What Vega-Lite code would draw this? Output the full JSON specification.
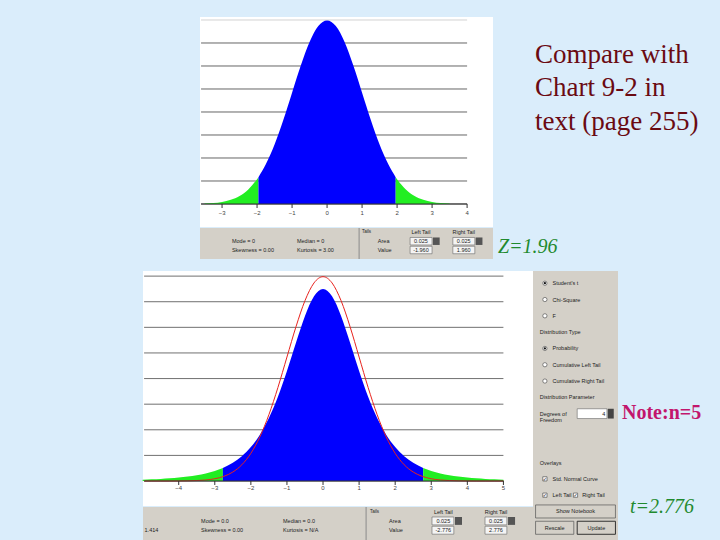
{
 "$schema": "https://vega.github.io/schema/vega-lite/v6.json",
 "background": "#DAEDFB",
 "padding": 0,
 "spacing": 0,
 "config": {"view": {"stroke": null}, "concat": {"spacing": 0}, "text": {"font": "Liberation Sans"}},
 "datasets": {
  "grid": [{"level":0},{"level":0.05},{"level":0.1},{"level":0.15},{"level":0.2},{"level":0.25},{"level":0.3},{"level":0.35},{"level":0.4}],
  "ticks1": [{"tick":-3},{"tick":-2},{"tick":-1},{"tick":0},{"tick":1},{"tick":2},{"tick":3},{"tick":4}],
  "ticks2": [{"tick":-5},{"tick":-4},{"tick":-3},{"tick":-2},{"tick":-1},{"tick":0},{"tick":1},{"tick":2},{"tick":3},{"tick":4},{"tick":5}],
  "normalRegions": [
   {"z":-3.5,"density":0.0009,"part":"left"},{"z":-3.25,"density":0.0020,"part":"left"},{"z":-3.0,"density":0.0044,"part":"left"},{"z":-2.75,"density":0.0091,"part":"left"},{"z":-2.5,"density":0.0175,"part":"left"},{"z":-2.25,"density":0.0317,"part":"left"},{"z":-2.0,"density":0.0540,"part":"left"},{"z":-1.96,"density":0.0584,"part":"left"},
   {"z":-1.96,"density":0.0584,"part":"center"},{"z":-1.75,"density":0.0863,"part":"center"},{"z":-1.5,"density":0.1295,"part":"center"},{"z":-1.25,"density":0.1826,"part":"center"},{"z":-1.0,"density":0.2420,"part":"center"},{"z":-0.75,"density":0.3011,"part":"center"},{"z":-0.5,"density":0.3521,"part":"center"},{"z":-0.25,"density":0.3867,"part":"center"},{"z":0,"density":0.3989,"part":"center"},{"z":0.25,"density":0.3867,"part":"center"},{"z":0.5,"density":0.3521,"part":"center"},{"z":0.75,"density":0.3011,"part":"center"},{"z":1.0,"density":0.2420,"part":"center"},{"z":1.25,"density":0.1826,"part":"center"},{"z":1.5,"density":0.1295,"part":"center"},{"z":1.75,"density":0.0863,"part":"center"},{"z":1.96,"density":0.0584,"part":"center"},
   {"z":1.96,"density":0.0584,"part":"right"},{"z":2.0,"density":0.0540,"part":"right"},{"z":2.25,"density":0.0317,"part":"right"},{"z":2.5,"density":0.0175,"part":"right"},{"z":2.75,"density":0.0091,"part":"right"},{"z":3.0,"density":0.0044,"part":"right"},{"z":3.25,"density":0.0020,"part":"right"},{"z":3.5,"density":0.0009,"part":"right"}
  ],
  "tRegions": [
   {"t":-5.0,"density":0.0026,"part":"left"},{"t":-4.75,"density":0.0033,"part":"left"},{"t":-4.5,"density":0.0041,"part":"left"},{"t":-4.25,"density":0.0052,"part":"left"},{"t":-4.0,"density":0.0067,"part":"left"},{"t":-3.75,"density":0.0087,"part":"left"},{"t":-3.5,"density":0.0113,"part":"left"},{"t":-3.25,"density":0.0148,"part":"left"},{"t":-3.0,"density":0.0197,"part":"left"},{"t":-2.776,"density":0.0256,"part":"left"},
   {"t":-2.776,"density":0.0256,"part":"center"},{"t":-2.5,"density":0.0357,"part":"center"},{"t":-2.25,"density":0.0485,"part":"center"},{"t":-2.0,"density":0.0663,"part":"center"},{"t":-1.75,"density":0.0905,"part":"center"},{"t":-1.5,"density":0.1229,"part":"center"},{"t":-1.25,"density":0.1644,"part":"center"},{"t":-1.0,"density":0.2147,"part":"center"},{"t":-0.75,"density":0.2699,"part":"center"},{"t":-0.5,"density":0.3223,"part":"center"},{"t":-0.25,"density":0.3607,"part":"center"},{"t":0,"density":0.3750,"part":"center"},{"t":0.25,"density":0.3607,"part":"center"},{"t":0.5,"density":0.3223,"part":"center"},{"t":0.75,"density":0.2699,"part":"center"},{"t":1.0,"density":0.2147,"part":"center"},{"t":1.25,"density":0.1644,"part":"center"},{"t":1.5,"density":0.1229,"part":"center"},{"t":1.75,"density":0.0905,"part":"center"},{"t":2.0,"density":0.0663,"part":"center"},{"t":2.25,"density":0.0485,"part":"center"},{"t":2.5,"density":0.0357,"part":"center"},{"t":2.776,"density":0.0256,"part":"center"},
   {"t":2.776,"density":0.0256,"part":"right"},{"t":3.0,"density":0.0197,"part":"right"},{"t":3.25,"density":0.0148,"part":"right"},{"t":3.5,"density":0.0113,"part":"right"},{"t":3.75,"density":0.0087,"part":"right"},{"t":4.0,"density":0.0067,"part":"right"},{"t":4.25,"density":0.0052,"part":"right"},{"t":4.5,"density":0.0041,"part":"right"},{"t":4.75,"density":0.0033,"part":"right"},{"t":5.0,"density":0.0026,"part":"right"}
  ],
  "normalLine": [
   {"z":-4.95,"density":0.0},{"z":-4.75,"density":0.0},{"z":-4.5,"density":0.0},{"z":-4.25,"density":0.0},{"z":-4.0,"density":0.0001},{"z":-3.75,"density":0.0004},{"z":-3.5,"density":0.0009},{"z":-3.25,"density":0.0020},{"z":-3.0,"density":0.0044},{"z":-2.75,"density":0.0091},{"z":-2.5,"density":0.0175},{"z":-2.25,"density":0.0317},{"z":-2.0,"density":0.0540},{"z":-1.75,"density":0.0863},{"z":-1.5,"density":0.1295},{"z":-1.25,"density":0.1826},{"z":-1.0,"density":0.2420},{"z":-0.75,"density":0.3011},{"z":-0.5,"density":0.3521},{"z":-0.25,"density":0.3867},{"z":0,"density":0.3989},{"z":0.25,"density":0.3867},{"z":0.5,"density":0.3521},{"z":0.75,"density":0.3011},{"z":1.0,"density":0.2420},{"z":1.25,"density":0.1826},{"z":1.5,"density":0.1295},{"z":1.75,"density":0.0863},{"z":2.0,"density":0.0540},{"z":2.25,"density":0.0317},{"z":2.5,"density":0.0175},{"z":2.75,"density":0.0091},{"z":3.0,"density":0.0044},{"z":3.25,"density":0.0020},{"z":3.5,"density":0.0009},{"z":3.75,"density":0.0004},{"z":4.0,"density":0.0001},{"z":4.25,"density":0.0},{"z":4.5,"density":0.0},{"z":4.75,"density":0.0},{"z":5.0,"density":0.0}
  ]
 },
 "vconcat": [
  {"hconcat": [
    {"width": 200, "height": 258, "data": {"values": [{}]}, "mark": {"type": "point", "size": 1, "opacity": 0}, "encoding": {}},
    {"vconcat": [
      {"width": 293, "height": 17, "data": {"values": [{}]}, "mark": {"type": "point", "size": 1, "opacity": 0}, "encoding": {}},
      {"width": 293, "height": 210,
       "view": {"fill": "#FFFFFF", "stroke": null},
       "layer": [
        {"data": {"name": "grid"}, "transform": [{"filter": "datum.level < 0.39"}],
         "mark": {"type": "rule", "color": "#666666", "strokeWidth": 1},
         "encoding": {"y": {"field": "level", "type": "quantitative", "scale": {"domain": [-0.05, 0.4065], "nice": false, "zero": false}, "axis": null},
                      "x": {"datum": -3.6, "type": "quantitative", "scale": {"domain": [-3.63, 4.74], "nice": false, "zero": false}, "axis": null},
                      "x2": {"datum": 4}}},
        {"data": {"values": [{}]}, "mark": {"type": "rule", "color": "#D2D2D2", "strokeWidth": 1},
         "encoding": {"y": {"datum": 0.4, "type": "quantitative", "scale": {"domain": [-0.05, 0.4065], "nice": false, "zero": false}, "axis": null},
                      "x": {"datum": -3.6, "type": "quantitative", "scale": {"domain": [-3.63, 4.74], "nice": false, "zero": false}, "axis": null},
                      "x2": {"datum": 4}}},
        {"data": {"name": "normalRegions"}, "mark": {"type": "area", "interpolate": "monotone"},
         "encoding": {"x": {"field": "z", "type": "quantitative", "scale": {"domain": [-3.63, 4.74], "nice": false, "zero": false}, "axis": null},
                      "y": {"field": "density", "type": "quantitative", "stack": null, "scale": {"domain": [-0.05, 0.4065], "nice": false, "zero": false}, "axis": null},
                      "y2": {"datum": 0},
                      "color": {"field": "part", "type": "nominal", "scale": {"domain": ["left", "center", "right"], "range": ["#22EE22", "#0000FF", "#22EE22"]}, "legend": null}}},
        {"data": {"values": [{}]}, "mark": {"type": "rule", "color": "#333333", "strokeWidth": 1},
         "encoding": {"y": {"datum": 0, "type": "quantitative", "scale": {"domain": [-0.05, 0.4065], "nice": false, "zero": false}, "axis": null},
                      "x": {"datum": -3.6, "type": "quantitative", "scale": {"domain": [-3.63, 4.74], "nice": false, "zero": false}, "axis": null},
                      "x2": {"datum": 4}}},
        {"data": {"name": "ticks1"}, "mark": {"type": "rule", "color": "#333333", "strokeWidth": 1},
         "encoding": {"x": {"field": "tick", "type": "quantitative", "scale": {"domain": [-3.63, 4.74], "nice": false, "zero": false}, "axis": null},
                      "y": {"datum": 0, "type": "quantitative", "scale": {"domain": [-0.05, 0.4065], "nice": false, "zero": false}, "axis": null},
                      "y2": {"datum": -0.0087}}},
        {"data": {"name": "ticks1"}, "mark": {"type": "text", "fontSize": 6, "color": "#444444", "baseline": "middle"},
         "encoding": {"x": {"field": "tick", "type": "quantitative", "scale": {"domain": [-3.63, 4.74], "nice": false, "zero": false}, "axis": null},
                      "y": {"datum": -0.019, "type": "quantitative", "scale": {"domain": [-0.05, 0.4065], "nice": false, "zero": false}, "axis": null},
                      "text": {"field": "tick", "type": "quantitative"}}}
       ]},
      {"width": 293, "height": 31,
       "view": {"fill": "#D4D0C8", "stroke": null},
       "layer": [
        {"data": {"values": [{}]}, "mark": {"type": "rule", "color": "#8A8A8A"},
         "encoding": {"x": {"datum": 0.543, "type": "quantitative", "scale": {"domain": [0, 1], "nice": false, "zero": false}, "axis": null}}},
        {"data": {"values": [{"row": "a", "label": "Mode = 0"}, {"row": "v", "label": "Skewness = 0.00"}]},
         "mark": {"type": "text", "align": "left", "fontSize": 5.5, "color": "#222222"},
         "encoding": {"x": {"datum": 0.109, "type": "quantitative", "scale": {"domain": [0, 1], "nice": false, "zero": false}, "axis": null},
                      "y": {"field": "row", "type": "nominal", "scale": {"type": "band", "domain": ["h", "a", "v"], "paddingInner": 0, "paddingOuter": 0.26, "align": 0}, "axis": null},
                      "text": {"field": "label"}}},
        {"data": {"values": [{"row": "a", "label": "Median = 0"}, {"row": "v", "label": "Kurtosis = 3.00"}]},
         "mark": {"type": "text", "align": "left", "fontSize": 5.5, "color": "#222222"},
         "encoding": {"x": {"datum": 0.331, "type": "quantitative", "scale": {"domain": [0, 1], "nice": false, "zero": false}, "axis": null},
                      "y": {"field": "row", "type": "nominal", "scale": {"type": "band", "domain": ["h", "a", "v"], "paddingInner": 0, "paddingOuter": 0.26, "align": 0}, "axis": null},
                      "text": {"field": "label"}}},
        {"data": {"values": [{"row": "h", "label": "Tails"}]},
         "mark": {"type": "text", "align": "left", "fontSize": 4.5, "color": "#222222"},
         "encoding": {"x": {"datum": 0.553, "type": "quantitative", "scale": {"domain": [0, 1], "nice": false, "zero": false}, "axis": null},
                      "y": {"field": "row", "type": "nominal", "scale": {"type": "band", "domain": ["h", "a", "v"], "paddingInner": 0, "paddingOuter": 0.26, "align": 0}, "axis": null},
                      "text": {"field": "label"}}},
        {"data": {"values": [{"row": "a", "label": "Area"}, {"row": "v", "label": "Value"}]},
         "mark": {"type": "text", "align": "left", "fontSize": 5.5, "color": "#222222"},
         "encoding": {"x": {"datum": 0.607, "type": "quantitative", "scale": {"domain": [0, 1], "nice": false, "zero": false}, "axis": null},
                      "y": {"field": "row", "type": "nominal", "scale": {"type": "band", "domain": ["h", "a", "v"], "paddingInner": 0, "paddingOuter": 0.26, "align": 0}, "axis": null},
                      "text": {"field": "label"}}},
        {"data": {"values": [{"row": "a"}, {"row": "v"}]},
         "mark": {"type": "bar", "fill": "#F4F4F4", "stroke": "#666666", "strokeWidth": 0.6, "height": {"band": 0.85}},
         "encoding": {"x": {"datum": 0.717, "type": "quantitative", "scale": {"domain": [0, 1], "nice": false, "zero": false}, "axis": null},
                      "x2": {"datum": 0.792},
                      "y": {"field": "row", "type": "nominal", "scale": {"type": "band", "domain": ["h", "a", "v"], "paddingInner": 0, "paddingOuter": 0.26, "align": 0}, "axis": null}}},
        {"data": {"values": [{"row": "a"}]},
         "mark": {"type": "bar", "fill": "#555555", "height": {"band": 0.85}},
         "encoding": {"x": {"datum": 0.795, "type": "quantitative", "scale": {"domain": [0, 1], "nice": false, "zero": false}, "axis": null},
                      "x2": {"datum": 0.818},
                      "y": {"field": "row", "type": "nominal", "scale": {"type": "band", "domain": ["h", "a", "v"], "paddingInner": 0, "paddingOuter": 0.26, "align": 0}, "axis": null}}},
        {"data": {"values": [{"row": "h", "label": "Left Tail"}, {"row": "a", "label": "0.025"}, {"row": "v", "label": "-1.960"}]},
         "mark": {"type": "text", "align": "center", "fontSize": 5.5, "color": "#222222"},
         "encoding": {"x": {"datum": 0.754, "type": "quantitative", "scale": {"domain": [0, 1], "nice": false, "zero": false}, "axis": null},
                      "y": {"field": "row", "type": "nominal", "scale": {"type": "band", "domain": ["h", "a", "v"], "paddingInner": 0, "paddingOuter": 0.26, "align": 0}, "axis": null},
                      "text": {"field": "label"}}},
        {"data": {"values": [{"row": "a"}, {"row": "v"}]},
         "mark": {"type": "bar", "fill": "#F4F4F4", "stroke": "#666666", "strokeWidth": 0.6, "height": {"band": 0.85}},
         "encoding": {"x": {"datum": 0.863, "type": "quantitative", "scale": {"domain": [0, 1], "nice": false, "zero": false}, "axis": null},
                      "x2": {"datum": 0.938},
                      "y": {"field": "row", "type": "nominal", "scale": {"type": "band", "domain": ["h", "a", "v"], "paddingInner": 0, "paddingOuter": 0.26, "align": 0}, "axis": null}}},
        {"data": {"values": [{"row": "a"}]},
         "mark": {"type": "bar", "fill": "#555555", "height": {"band": 0.85}},
         "encoding": {"x": {"datum": 0.941, "type": "quantitative", "scale": {"domain": [0, 1], "nice": false, "zero": false}, "axis": null},
                      "x2": {"datum": 0.964},
                      "y": {"field": "row", "type": "nominal", "scale": {"type": "band", "domain": ["h", "a", "v"], "paddingInner": 0, "paddingOuter": 0.26, "align": 0}, "axis": null}}},
        {"data": {"values": [{"row": "h", "label": "Right Tail"}, {"row": "a", "label": "0.025"}, {"row": "v", "label": "1.960"}]},
         "mark": {"type": "text", "align": "center", "fontSize": 5.5, "color": "#222222"},
         "encoding": {"x": {"datum": 0.9, "type": "quantitative", "scale": {"domain": [0, 1], "nice": false, "zero": false}, "axis": null},
                      "y": {"field": "row", "type": "nominal", "scale": {"type": "band", "domain": ["h", "a", "v"], "paddingInner": 0, "paddingOuter": 0.26, "align": 0}, "axis": null},
                      "text": {"field": "label"}}}
       ]}
     ], "spacing": 0},
    {"vconcat": [
      {"width": 227, "height": 41, "data": {"values": [{}]}, "mark": {"type": "point", "size": 1, "opacity": 0}, "encoding": {}},
      {"hconcat": [
        {"width": 42, "height": 140, "data": {"values": [{}]}, "mark": {"type": "point", "size": 1, "opacity": 0}, "encoding": {}},
        {"width": 185, "height": 140,
         "data": {"values": [{"label": "Compare with\nChart 9-2 in\ntext (page 255)"}]},
         "mark": {"type": "text", "align": "left", "baseline": "top", "font": "Liberation Serif", "fontSize": 27, "lineHeight": 33.3, "lineBreak": "\n", "color": "#6A0A12"},
         "encoding": {"text": {"field": "label"},
                      "x": {"datum": 0, "type": "quantitative", "scale": {"domain": [0, 1], "nice": false, "zero": false}, "axis": null},
                      "y": {"datum": 1, "type": "quantitative", "scale": {"domain": [0, 1], "nice": false, "zero": false}, "axis": null}}}
      ], "spacing": 0},
      {"width": 227, "height": 55, "data": {"values": [{}]}, "mark": {"type": "point", "size": 1, "opacity": 0}, "encoding": {}},
      {"hconcat": [
        {"width": 5, "height": 22, "data": {"values": [{}]}, "mark": {"type": "point", "size": 1, "opacity": 0}, "encoding": {}},
        {"width": 222, "height": 22,
         "data": {"values": [{"label": "Z=1.96"}]},
         "mark": {"type": "text", "align": "left", "baseline": "top", "font": "Liberation Serif", "fontStyle": "italic", "fontSize": 20, "color": "#1F8A2E"},
         "encoding": {"text": {"field": "label"},
                      "x": {"datum": 0, "type": "quantitative", "scale": {"domain": [0, 1], "nice": false, "zero": false}, "axis": null},
                      "y": {"datum": 1, "type": "quantitative", "scale": {"domain": [0, 1], "nice": false, "zero": false}, "axis": null}}}
      ], "spacing": 0}
     ], "spacing": 0}
   ], "spacing": 0},
  {"hconcat": [
    {"width": 142, "height": 282, "data": {"values": [{}]}, "mark": {"type": "point", "size": 1, "opacity": 0}, "encoding": {}},
    {"vconcat": [
      {"width": 475, "height": 11, "data": {"values": [{}]}, "mark": {"type": "point", "size": 1, "opacity": 0}, "encoding": {}},
      {"hconcat": [
        {"vconcat": [
          {"width": 390, "height": 235,
           "view": {"fill": "#FFFFFF", "stroke": null},
           "layer": [
            {"data": {"name": "grid"},
             "mark": {"type": "rule", "color": "#707070", "strokeWidth": 1},
             "encoding": {"y": {"field": "level", "type": "quantitative", "scale": {"domain": [-0.0488, 0.41], "nice": false, "zero": false}, "axis": null},
                          "x": {"datum": -4.96, "type": "quantitative", "scale": {"domain": [-4.99, 5.82], "nice": false, "zero": false}, "axis": null},
                          "x2": {"datum": 5}}},
            {"data": {"name": "tRegions"}, "mark": {"type": "area", "interpolate": "monotone"},
             "encoding": {"x": {"field": "t", "type": "quantitative", "scale": {"domain": [-4.99, 5.82], "nice": false, "zero": false}, "axis": null},
                          "y": {"field": "density", "type": "quantitative", "stack": null, "scale": {"domain": [-0.0488, 0.41], "nice": false, "zero": false}, "axis": null},
                          "y2": {"datum": 0},
                          "color": {"field": "part", "type": "nominal", "scale": {"domain": ["left", "center", "right"], "range": ["#22EE22", "#0000FF", "#22EE22"]}, "legend": null}}},
            {"data": {"name": "normalLine"}, "mark": {"type": "line", "color": "#E8231E", "strokeWidth": 1, "interpolate": "monotone"},
             "encoding": {"x": {"field": "z", "type": "quantitative", "scale": {"domain": [-4.99, 5.82], "nice": false, "zero": false}, "axis": null},
                          "y": {"field": "density", "type": "quantitative", "scale": {"domain": [-0.0488, 0.41], "nice": false, "zero": false}, "axis": null}}},
            {"data": {"values": [{}]}, "mark": {"type": "rule", "color": "#333333", "strokeWidth": 1},
             "encoding": {"y": {"datum": 0, "type": "quantitative", "scale": {"domain": [-0.0488, 0.41], "nice": false, "zero": false}, "axis": null},
                          "x": {"datum": -4.96, "type": "quantitative", "scale": {"domain": [-4.99, 5.82], "nice": false, "zero": false}, "axis": null},
                          "x2": {"datum": 5}}},
            {"data": {"name": "ticks2"}, "transform": [{"filter": "datum.tick > -5"}], "mark": {"type": "rule", "color": "#333333", "strokeWidth": 1},
             "encoding": {"x": {"field": "tick", "type": "quantitative", "scale": {"domain": [-4.99, 5.82], "nice": false, "zero": false}, "axis": null},
                          "y": {"datum": 0, "type": "quantitative", "scale": {"domain": [-0.0488, 0.41], "nice": false, "zero": false}, "axis": null},
                          "y2": {"datum": -0.0078}}},
            {"data": {"name": "ticks2"}, "transform": [{"filter": "datum.tick > -5"}], "mark": {"type": "text", "fontSize": 6, "color": "#444444", "baseline": "middle"},
             "encoding": {"x": {"field": "tick", "type": "quantitative", "scale": {"domain": [-4.99, 5.82], "nice": false, "zero": false}, "axis": null},
                          "y": {"datum": -0.0145, "type": "quantitative", "scale": {"domain": [-0.0488, 0.41], "nice": false, "zero": false}, "axis": null},
                          "text": {"field": "tick", "type": "quantitative"}}}
           ]},
          {"width": 390, "height": 34,
           "view": {"fill": "#D4D0C8", "stroke": null},
           "layer": [
            {"data": {"values": [{}]}, "mark": {"type": "rule", "color": "#8A8A8A"},
             "encoding": {"x": {"datum": 0.572, "type": "quantitative", "scale": {"domain": [0, 1], "nice": false, "zero": false}, "axis": null}}},
            {"data": {"values": [{"row": "v", "label": "1.414"}]},
             "mark": {"type": "text", "align": "left", "fontSize": 5.5, "color": "#222222"},
             "encoding": {"x": {"datum": 0.004, "type": "quantitative", "scale": {"domain": [0, 1], "nice": false, "zero": false}, "axis": null},
                          "y": {"field": "row", "type": "nominal", "scale": {"type": "band", "domain": ["h", "a", "v"], "paddingInner": 0, "paddingOuter": 0.33, "align": 0}, "axis": null},
                          "text": {"field": "label"}}},
            {"data": {"values": [{"row": "a", "label": "Mode = 0.0"}, {"row": "v", "label": "Skewness = 0.00"}]},
             "mark": {"type": "text", "align": "left", "fontSize": 5.5, "color": "#222222"},
             "encoding": {"x": {"datum": 0.149, "type": "quantitative", "scale": {"domain": [0, 1], "nice": false, "zero": false}, "axis": null},
                          "y": {"field": "row", "type": "nominal", "scale": {"type": "band", "domain": ["h", "a", "v"], "paddingInner": 0, "paddingOuter": 0.33, "align": 0}, "axis": null},
                          "text": {"field": "label"}}},
            {"data": {"values": [{"row": "a", "label": "Median = 0.0"}, {"row": "v", "label": "Kurtosis = N/A"}]},
             "mark": {"type": "text", "align": "left", "fontSize": 5.5, "color": "#222222"},
             "encoding": {"x": {"datum": 0.359, "type": "quantitative", "scale": {"domain": [0, 1], "nice": false, "zero": false}, "axis": null},
                          "y": {"field": "row", "type": "nominal", "scale": {"type": "band", "domain": ["h", "a", "v"], "paddingInner": 0, "paddingOuter": 0.33, "align": 0}, "axis": null},
                          "text": {"field": "label"}}},
            {"data": {"values": [{"row": "h", "label": "Tails"}]},
             "mark": {"type": "text", "align": "left", "fontSize": 4.5, "color": "#222222"},
             "encoding": {"x": {"datum": 0.582, "type": "quantitative", "scale": {"domain": [0, 1], "nice": false, "zero": false}, "axis": null},
                          "y": {"field": "row", "type": "nominal", "scale": {"type": "band", "domain": ["h", "a", "v"], "paddingInner": 0, "paddingOuter": 0.33, "align": 0}, "axis": null},
                          "text": {"field": "label"}}},
            {"data": {"values": [{"row": "a", "label": "Area"}, {"row": "v", "label": "Value"}]},
             "mark": {"type": "text", "align": "left", "fontSize": 5.5, "color": "#222222"},
             "encoding": {"x": {"datum": 0.631, "type": "quantitative", "scale": {"domain": [0, 1], "nice": false, "zero": false}, "axis": null},
                          "y": {"field": "row", "type": "nominal", "scale": {"type": "band", "domain": ["h", "a", "v"], "paddingInner": 0, "paddingOuter": 0.33, "align": 0}, "axis": null},
                          "text": {"field": "label"}}},
            {"data": {"values": [{"row": "a"}, {"row": "v"}]},
             "mark": {"type": "bar", "fill": "#F4F4F4", "stroke": "#666666", "strokeWidth": 0.6, "height": {"band": 0.85}},
             "encoding": {"x": {"datum": 0.741, "type": "quantitative", "scale": {"domain": [0, 1], "nice": false, "zero": false}, "axis": null},
                          "x2": {"datum": 0.797},
                          "y": {"field": "row", "type": "nominal", "scale": {"type": "band", "domain": ["h", "a", "v"], "paddingInner": 0, "paddingOuter": 0.33, "align": 0}, "axis": null}}},
            {"data": {"values": [{"row": "a"}]},
             "mark": {"type": "bar", "fill": "#555555", "height": {"band": 0.85}},
             "encoding": {"x": {"datum": 0.8, "type": "quantitative", "scale": {"domain": [0, 1], "nice": false, "zero": false}, "axis": null},
                          "x2": {"datum": 0.818},
                          "y": {"field": "row", "type": "nominal", "scale": {"type": "band", "domain": ["h", "a", "v"], "paddingInner": 0, "paddingOuter": 0.33, "align": 0}, "axis": null}}},
            {"data": {"values": [{"row": "h", "label": "Left Tail"}, {"row": "a", "label": "0.025"}, {"row": "v", "label": "-2.776"}]},
             "mark": {"type": "text", "align": "center", "fontSize": 5.5, "color": "#222222"},
             "encoding": {"x": {"datum": 0.77, "type": "quantitative", "scale": {"domain": [0, 1], "nice": false, "zero": false}, "axis": null},
                          "y": {"field": "row", "type": "nominal", "scale": {"type": "band", "domain": ["h", "a", "v"], "paddingInner": 0, "paddingOuter": 0.33, "align": 0}, "axis": null},
                          "text": {"field": "label"}}},
            {"data": {"values": [{"row": "a"}, {"row": "v"}]},
             "mark": {"type": "bar", "fill": "#F4F4F4", "stroke": "#666666", "strokeWidth": 0.6, "height": {"band": 0.85}},
             "encoding": {"x": {"datum": 0.877, "type": "quantitative", "scale": {"domain": [0, 1], "nice": false, "zero": false}, "axis": null},
                          "x2": {"datum": 0.933},
                          "y": {"field": "row", "type": "nominal", "scale": {"type": "band", "domain": ["h", "a", "v"], "paddingInner": 0, "paddingOuter": 0.33, "align": 0}, "axis": null}}},
            {"data": {"values": [{"row": "a"}]},
             "mark": {"type": "bar", "fill": "#555555", "height": {"band": 0.85}},
             "encoding": {"x": {"datum": 0.936, "type": "quantitative", "scale": {"domain": [0, 1], "nice": false, "zero": false}, "axis": null},
                          "x2": {"datum": 0.954},
                          "y": {"field": "row", "type": "nominal", "scale": {"type": "band", "domain": ["h", "a", "v"], "paddingInner": 0, "paddingOuter": 0.33, "align": 0}, "axis": null}}},
            {"data": {"values": [{"row": "h", "label": "Right Tail"}, {"row": "a", "label": "0.025"}, {"row": "v", "label": "2.776"}]},
             "mark": {"type": "text", "align": "center", "fontSize": 5.5, "color": "#222222"},
             "encoding": {"x": {"datum": 0.905, "type": "quantitative", "scale": {"domain": [0, 1], "nice": false, "zero": false}, "axis": null},
                          "y": {"field": "row", "type": "nominal", "scale": {"type": "band", "domain": ["h", "a", "v"], "paddingInner": 0, "paddingOuter": 0.33, "align": 0}, "axis": null},
                          "text": {"field": "label"}}}
           ]}
        ], "spacing": 0},
        {"width": 85, "height": 269,
         "view": {"fill": "#D4D0C8", "stroke": null},
         "layer": [
          {"data": {"values": [{"item": "0", "label": "Student's t"}, {"item": "1", "label": "Chi-Square"}, {"item": "2", "label": "F"}, {"item": "4", "label": "Probability"}, {"item": "5", "label": "Cumulative Left Tail"}, {"item": "6", "label": "Cumulative Right Tail"}, {"item": "12", "label": "Std. Normal Curve"}, {"item": "13", "label": "Left Tail"}]},
           "mark": {"type": "text", "align": "left", "fontSize": 5.5, "color": "#222222"},
           "encoding": {"x": {"datum": 0.23, "type": "quantitative", "scale": {"domain": [0, 1], "nice": false, "zero": false}, "axis": null},
                        "y": {"field": "item", "type": "nominal", "scale": {"type": "band", "domain": ["0","1","2","3","4","5","6","7","8","9","10","11","12","13","14","15"], "paddingInner": 0, "paddingOuter": 0.25}, "axis": null},
                        "text": {"field": "label"}}},
          {"data": {"values": [{"item": "3", "label": "Distribution Type"}, {"item": "7", "label": "Distribution Parameter"}, {"item": "11", "label": "Overlays"}]},
           "mark": {"type": "text", "align": "left", "fontSize": 5.5, "color": "#222222"},
           "encoding": {"x": {"datum": 0.08, "type": "quantitative", "scale": {"domain": [0, 1], "nice": false, "zero": false}, "axis": null},
                        "y": {"field": "item", "type": "nominal", "scale": {"type": "band", "domain": ["0","1","2","3","4","5","6","7","8","9","10","11","12","13","14","15"], "paddingInner": 0, "paddingOuter": 0.25}, "axis": null},
                        "text": {"field": "label"}}},
          {"data": {"values": [{"item": "8", "label": "Degrees of\nFreedom"}]},
           "mark": {"type": "text", "align": "left", "baseline": "middle", "fontSize": 5.5, "lineBreak": "\n", "lineHeight": 6, "color": "#222222"},
           "encoding": {"x": {"datum": 0.08, "type": "quantitative", "scale": {"domain": [0, 1], "nice": false, "zero": false}, "axis": null},
                        "y": {"field": "item", "type": "nominal", "scale": {"type": "band", "domain": ["0","1","2","3","4","5","6","7","8","9","10","11","12","13","14","15"], "paddingInner": 0, "paddingOuter": 0.25}, "axis": null},
                        "text": {"field": "label"}}},
          {"data": {"values": [{"item": "8"}]},
           "mark": {"type": "bar", "fill": "#FFFFFF", "stroke": "#666666", "strokeWidth": 0.6, "height": {"band": 0.6}},
           "encoding": {"x": {"datum": 0.52, "type": "quantitative", "scale": {"domain": [0, 1], "nice": false, "zero": false}, "axis": null},
                        "x2": {"datum": 0.87},
                        "y": {"field": "item", "type": "nominal", "scale": {"type": "band", "domain": ["0","1","2","3","4","5","6","7","8","9","10","11","12","13","14","15"], "paddingInner": 0, "paddingOuter": 0.25}, "axis": null}}},
          {"data": {"values": [{"item": "8"}]},
           "mark": {"type": "bar", "fill": "#444444", "height": {"band": 0.6}},
           "encoding": {"x": {"datum": 0.88, "type": "quantitative", "scale": {"domain": [0, 1], "nice": false, "zero": false}, "axis": null},
                        "x2": {"datum": 0.95},
                        "y": {"field": "item", "type": "nominal", "scale": {"type": "band", "domain": ["0","1","2","3","4","5","6","7","8","9","10","11","12","13","14","15"], "paddingInner": 0, "paddingOuter": 0.25}, "axis": null}}},
          {"data": {"values": [{"item": "8", "label": "4"}]},
           "mark": {"type": "text", "align": "right", "fontSize": 5.5, "color": "#222222"},
           "encoding": {"x": {"datum": 0.85, "type": "quantitative", "scale": {"domain": [0, 1], "nice": false, "zero": false}, "axis": null},
                        "y": {"field": "item", "type": "nominal", "scale": {"type": "band", "domain": ["0","1","2","3","4","5","6","7","8","9","10","11","12","13","14","15"], "paddingInner": 0, "paddingOuter": 0.25}, "axis": null},
                        "text": {"field": "label"}}},
          {"data": {"values": [{"item": "0"}, {"item": "1"}, {"item": "2"}, {"item": "4"}, {"item": "5"}, {"item": "6"}]},
           "mark": {"type": "point", "shape": "circle", "filled": true, "size": 18, "fill": "#FFFFFF", "stroke": "#555555", "strokeWidth": 0.7, "opacity": 1},
           "encoding": {"x": {"datum": 0.14, "type": "quantitative", "scale": {"domain": [0, 1], "nice": false, "zero": false}, "axis": null},
                        "y": {"field": "item", "type": "nominal", "scale": {"type": "band", "domain": ["0","1","2","3","4","5","6","7","8","9","10","11","12","13","14","15"], "paddingInner": 0, "paddingOuter": 0.25}, "axis": null}}},
          {"data": {"values": [{"item": "0"}, {"item": "4"}]},
           "mark": {"type": "point", "shape": "circle", "filled": true, "size": 5, "color": "#111111", "opacity": 1},
           "encoding": {"x": {"datum": 0.14, "type": "quantitative", "scale": {"domain": [0, 1], "nice": false, "zero": false}, "axis": null},
                        "y": {"field": "item", "type": "nominal", "scale": {"type": "band", "domain": ["0","1","2","3","4","5","6","7","8","9","10","11","12","13","14","15"], "paddingInner": 0, "paddingOuter": 0.25}, "axis": null}}},
          {"data": {"values": [{"item": "12"}, {"item": "13"}]},
           "mark": {"type": "point", "shape": "square", "filled": true, "size": 18, "fill": "#FFFFFF", "stroke": "#555555", "strokeWidth": 0.7, "opacity": 1},
           "encoding": {"x": {"datum": 0.14, "type": "quantitative", "scale": {"domain": [0, 1], "nice": false, "zero": false}, "axis": null},
                        "y": {"field": "item", "type": "nominal", "scale": {"type": "band", "domain": ["0","1","2","3","4","5","6","7","8","9","10","11","12","13","14","15"], "paddingInner": 0, "paddingOuter": 0.25}, "axis": null}}},
          {"data": {"values": [{"item": "12", "label": "✓"}, {"item": "13", "label": "✓"}]},
           "mark": {"type": "text", "align": "center", "fontSize": 5, "color": "#111111", "font": "DejaVu Sans"},
           "encoding": {"x": {"datum": 0.14, "type": "quantitative", "scale": {"domain": [0, 1], "nice": false, "zero": false}, "axis": null},
                        "y": {"field": "item", "type": "nominal", "scale": {"type": "band", "domain": ["0","1","2","3","4","5","6","7","8","9","10","11","12","13","14","15"], "paddingInner": 0, "paddingOuter": 0.25}, "axis": null},
                        "text": {"field": "label"}}},
          {"data": {"values": [{"item": "13"}]},
           "mark": {"type": "point", "shape": "square", "filled": true, "size": 18, "fill": "#FFFFFF", "stroke": "#555555", "strokeWidth": 0.7, "opacity": 1},
           "encoding": {"x": {"datum": 0.5, "type": "quantitative", "scale": {"domain": [0, 1], "nice": false, "zero": false}, "axis": null},
                        "y": {"field": "item", "type": "nominal", "scale": {"type": "band", "domain": ["0","1","2","3","4","5","6","7","8","9","10","11","12","13","14","15"], "paddingInner": 0, "paddingOuter": 0.25}, "axis": null}}},
          {"data": {"values": [{"item": "13", "label": "✓"}]},
           "mark": {"type": "text", "align": "center", "fontSize": 5, "color": "#111111", "font": "DejaVu Sans"},
           "encoding": {"x": {"datum": 0.5, "type": "quantitative", "scale": {"domain": [0, 1], "nice": false, "zero": false}, "axis": null},
                        "y": {"field": "item", "type": "nominal", "scale": {"type": "band", "domain": ["0","1","2","3","4","5","6","7","8","9","10","11","12","13","14","15"], "paddingInner": 0, "paddingOuter": 0.25}, "axis": null},
                        "text": {"field": "label"}}},
          {"data": {"values": [{"item": "13", "label": "Right Tail"}]},
           "mark": {"type": "text", "align": "left", "fontSize": 5.5, "color": "#222222"},
           "encoding": {"x": {"datum": 0.58, "type": "quantitative", "scale": {"domain": [0, 1], "nice": false, "zero": false}, "axis": null},
                        "y": {"field": "item", "type": "nominal", "scale": {"type": "band", "domain": ["0","1","2","3","4","5","6","7","8","9","10","11","12","13","14","15"], "paddingInner": 0, "paddingOuter": 0.25}, "axis": null},
                        "text": {"field": "label"}}},
          {"data": {"values": [{"item": "14"}]},
           "mark": {"type": "bar", "fill": "#D4D0C8", "stroke": "#555555", "strokeWidth": 0.7, "height": {"band": 0.8}},
           "encoding": {"x": {"datum": 0.03, "type": "quantitative", "scale": {"domain": [0, 1], "nice": false, "zero": false}, "axis": null},
                        "x2": {"datum": 0.97},
                        "y": {"field": "item", "type": "nominal", "scale": {"type": "band", "domain": ["0","1","2","3","4","5","6","7","8","9","10","11","12","13","14","15"], "paddingInner": 0, "paddingOuter": 0.25}, "axis": null}}},
          {"data": {"values": [{"item": "15"}]},
           "mark": {"type": "bar", "fill": "#D4D0C8", "stroke": "#555555", "strokeWidth": 0.7, "height": {"band": 0.8}},
           "encoding": {"x": {"datum": 0.03, "type": "quantitative", "scale": {"domain": [0, 1], "nice": false, "zero": false}, "axis": null},
                        "x2": {"datum": 0.48},
                        "y": {"field": "item", "type": "nominal", "scale": {"type": "band", "domain": ["0","1","2","3","4","5","6","7","8","9","10","11","12","13","14","15"], "paddingInner": 0, "paddingOuter": 0.25}, "axis": null}}},
          {"data": {"values": [{"item": "15"}]},
           "mark": {"type": "bar", "fill": "#D4D0C8", "stroke": "#222222", "strokeWidth": 0.9, "height": {"band": 0.8}},
           "encoding": {"x": {"datum": 0.52, "type": "quantitative", "scale": {"domain": [0, 1], "nice": false, "zero": false}, "axis": null},
                        "x2": {"datum": 0.97},
                        "y": {"field": "item", "type": "nominal", "scale": {"type": "band", "domain": ["0","1","2","3","4","5","6","7","8","9","10","11","12","13","14","15"], "paddingInner": 0, "paddingOuter": 0.25}, "axis": null}}},
          {"data": {"values": [{"item": "14", "label": "Show Notebook"}]},
           "mark": {"type": "text", "align": "center", "fontSize": 5.5, "color": "#222222"},
           "encoding": {"x": {"datum": 0.5, "type": "quantitative", "scale": {"domain": [0, 1], "nice": false, "zero": false}, "axis": null},
                        "y": {"field": "item", "type": "nominal", "scale": {"type": "band", "domain": ["0","1","2","3","4","5","6","7","8","9","10","11","12","13","14","15"], "paddingInner": 0, "paddingOuter": 0.25}, "axis": null},
                        "text": {"field": "label"}}},
          {"data": {"values": [{"item": "15", "label": "Rescale"}]},
           "mark": {"type": "text", "align": "center", "fontSize": 5.5, "color": "#222222"},
           "encoding": {"x": {"datum": 0.255, "type": "quantitative", "scale": {"domain": [0, 1], "nice": false, "zero": false}, "axis": null},
                        "y": {"field": "item", "type": "nominal", "scale": {"type": "band", "domain": ["0","1","2","3","4","5","6","7","8","9","10","11","12","13","14","15"], "paddingInner": 0, "paddingOuter": 0.25}, "axis": null},
                        "text": {"field": "label"}}},
          {"data": {"values": [{"item": "15", "label": "Update"}]},
           "mark": {"type": "text", "align": "center", "fontSize": 5.5, "color": "#222222"},
           "encoding": {"x": {"datum": 0.745, "type": "quantitative", "scale": {"domain": [0, 1], "nice": false, "zero": false}, "axis": null},
                        "y": {"field": "item", "type": "nominal", "scale": {"type": "band", "domain": ["0","1","2","3","4","5","6","7","8","9","10","11","12","13","14","15"], "paddingInner": 0, "paddingOuter": 0.25}, "axis": null},
                        "text": {"field": "label"}}}
         ]}
      ], "spacing": 0}
     ], "spacing": 0},
    {"vconcat": [
      {"width": 102, "height": 143, "data": {"values": [{}]}, "mark": {"type": "point", "size": 1, "opacity": 0}, "encoding": {}},
      {"hconcat": [
        {"width": 4, "height": 22, "data": {"values": [{}]}, "mark": {"type": "point", "size": 1, "opacity": 0}, "encoding": {}},
        {"width": 98, "height": 22,
         "data": {"values": [{"label": "Note:n=5"}]},
         "mark": {"type": "text", "align": "left", "baseline": "top", "font": "Liberation Serif", "fontWeight": "bold", "fontSize": 20, "color": "#C2166D"},
         "encoding": {"text": {"field": "label"},
                      "x": {"datum": 0, "type": "quantitative", "scale": {"domain": [0, 1], "nice": false, "zero": false}, "axis": null},
                      "y": {"datum": 1, "type": "quantitative", "scale": {"domain": [0, 1], "nice": false, "zero": false}, "axis": null}}}
      ], "spacing": 0},
      {"width": 102, "height": 72, "data": {"values": [{}]}, "mark": {"type": "point", "size": 1, "opacity": 0}, "encoding": {}},
      {"hconcat": [
        {"width": 12, "height": 22, "data": {"values": [{}]}, "mark": {"type": "point", "size": 1, "opacity": 0}, "encoding": {}},
        {"width": 90, "height": 22,
         "data": {"values": [{"label": "t=2.776"}]},
         "mark": {"type": "text", "align": "left", "baseline": "top", "font": "Liberation Serif", "fontStyle": "italic", "fontSize": 20, "color": "#1F8A2E"},
         "encoding": {"text": {"field": "label"},
                      "x": {"datum": 0, "type": "quantitative", "scale": {"domain": [0, 1], "nice": false, "zero": false}, "axis": null},
                      "y": {"datum": 1, "type": "quantitative", "scale": {"domain": [0, 1], "nice": false, "zero": false}, "axis": null}}}
      ], "spacing": 0},
      {"width": 102, "height": 23, "data": {"values": [{}]}, "mark": {"type": "point", "size": 1, "opacity": 0}, "encoding": {}}
     ], "spacing": 0}
   ], "spacing": 0}
 ]
}
